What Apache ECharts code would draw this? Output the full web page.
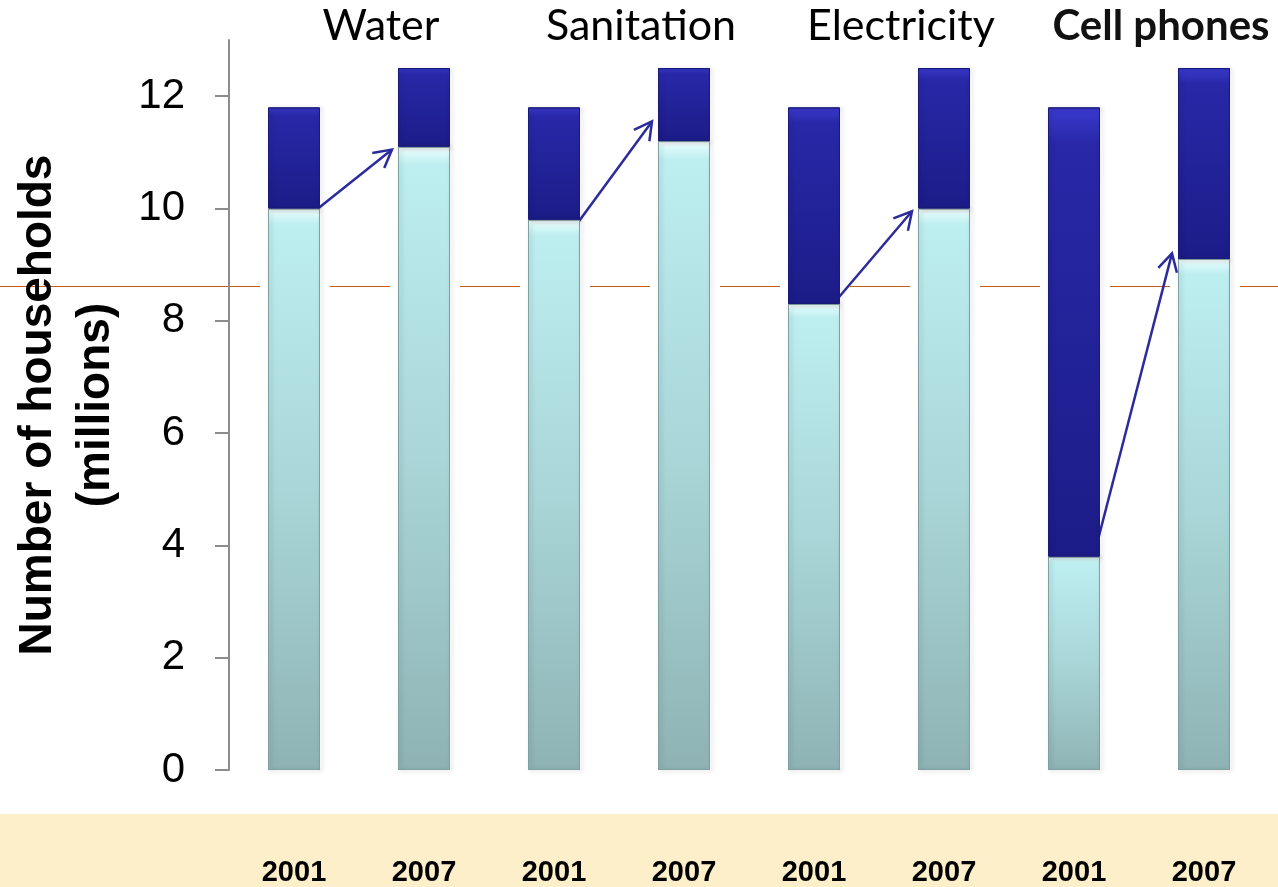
<!DOCTYPE html>
<html>
<head>
<meta charset="utf-8">
<script src="https://cdn.jsdelivr.net/npm/echarts@6.0.0/dist/echarts.min.js"></script>
<style>
  html, body { margin: 0; padding: 0; background: #fff; }
  #chart { width: 1278px; height: 887px; }
</style>
</head>
<body>
<div id="chart"></div>
<script>
// Households (millions) with and without access, 2001 vs 2007
const groups = ['Water', 'Sanitation', 'Electricity', 'Cell phones']
const years = ['2001', '2007', '2001', '2007', '2001', '2007', '2001', '2007']
const withAccess = [10.0, 11.1, 9.8, 11.2, 8.3, 10.0, 3.8, 9.1]
const withoutAccess = [1.8, 1.4, 2.0, 1.3, 3.5, 2.5, 8.0, 3.4]
const yTicks = [0, 2, 4, 6, 8, 10, 12]

// arrows: value at start (2001 bar) and at end (next to the 2007 bar)
const arrowFrom = [10.0, 9.75, 8.4, 4.1]
const arrowTo = [11.05, 11.55, 9.95, 9.2]
const refLineValue = 8.62

const chart = echarts.init(document.getElementById('chart'))

const barW = 52

const lightFill = new echarts.graphic.LinearGradient(0, 0, 0, 1, [
  { offset: 0, color: '#ffffff' },
  { offset: 0.012, color: '#d8f8f9' },
  { offset: 0.03, color: '#bdeef0' },
  { offset: 0.5, color: '#a9d6d8' },
  { offset: 1, color: '#8fb3b4' }
])
const darkFill = new echarts.graphic.LinearGradient(0, 0, 0, 1, [
  { offset: 0, color: '#3a3ad0' },
  { offset: 0.08, color: '#2828a8' },
  { offset: 1, color: '#1c1c88' }
])

chart.setOption({
  animation: false,
  grid: { left: 229, right: 9, top: 40, bottom: 116, containLabel: false },
  xAxis: [
    {
      type: 'category',
      data: years,
      axisLine: { show: false },
      axisTick: { show: false },
      axisLabel: {
        interval: 0,
        margin: 88,
        fontFamily: '"Liberation Sans Narrow", "Liberation Sans", sans-serif',
        fontWeight: 'bold',
        fontSize: 29,
        color: '#000'
      }
    },
    {
      type: 'category',
      position: 'top',
      data: groups,
      axisLine: { show: false },
      axisTick: { show: false },
      axisLabel: {
        interval: 0,
        hideOverlap: false,
        margin: 14,
        verticalAlign: 'middle',
        padding: [0, 0, 0, 44],
        fontFamily: 'Lato, "Open Sans", sans-serif',
        fontSize: 43,
        color: '#000',
        formatter: v => v === 'Cell phones' ? '{b|' + v + '}' : v,
        rich: {
          b: { fontFamily: 'Lato, sans-serif', fontSize: 42, fontWeight: 'bold', color: '#111' }
        }
      }
    }
  ],
  yAxis: {
    type: 'value',
    min: 0,
    max: 13,
    interval: 2,
    name: 'Number of households\n(millions)',
    nameLocation: 'middle',
    nameRotate: 90,
    nameGap: 104,
    nameTextStyle: {
      fontFamily: '"Liberation Sans", Arial, sans-serif',
      fontWeight: 'bold',
      fontSize: 46,
      lineHeight: 58,
      color: '#000'
    },
    axisLine: { show: true, lineStyle: { color: '#8c8c8c', width: 2 } },
    axisTick: { show: true, length: 14, customValues: yTicks, lineStyle: { color: '#8c8c8c', width: 2 } },
    axisLabel: {
      margin: 44,
      customValues: yTicks,
      fontFamily: '"Liberation Sans", Arial, sans-serif',
      fontSize: 42,
      color: '#000'
    },
    splitLine: { show: false }
  },
  series: [
    {
      name: 'With access',
      type: 'bar',
      stack: 'total',
      barWidth: barW,
      data: withAccess,
      itemStyle: {
        color: lightFill,
        borderColor: '#7f9fa0',
        borderWidth: 1,
        shadowColor: 'rgba(0,0,0,0.25)',
        shadowBlur: 4,
        shadowOffsetX: 2,
        shadowOffsetY: 1
      }
    },
    {
      name: 'Without access',
      type: 'bar',
      stack: 'total',
      barWidth: barW,
      data: withoutAccess,
      itemStyle: {
        color: darkFill,
        borderColor: '#1a1a7c',
        borderWidth: 1,
        shadowColor: 'rgba(0,0,0,0.25)',
        shadowBlur: 4,
        shadowOffsetX: 2,
        shadowOffsetY: 1
      }
    }
  ]
})

// Overlays: bottom band, orange reference line (broken at bars), arrows
const toPx = (i, v) => chart.convertToPixel({ xAxisIndex: 0, yAxisIndex: 0 }, [i, v])
const graphics = []

graphics.push({
  type: 'rect',
  z: -100,
  shape: { x: 0, y: 814, width: 1278, height: 73 },
  style: { fill: '#fdefc9' },
  silent: true
})

const refY = Math.round(toPx(0, refLineValue)[1]) + 0.5
let segStart = 0
years.forEach((y, i) => {
  const cx = toPx(i, 0)[0]
  graphics.push({
    type: 'line',
    z: -50,
    shape: { x1: segStart, y1: refY, x2: cx - barW / 2 - 8, y2: refY },
    style: { stroke: '#c55a11', lineWidth: 1 }
  })
  segStart = cx + barW / 2 + 10
})
graphics.push({
  type: 'line',
  z: -50,
  shape: { x1: segStart, y1: refY, x2: 1278, y2: refY },
  style: { stroke: '#c55a11', lineWidth: 1 }
})

groups.forEach((g, k) => {
  const p0 = toPx(k * 2, arrowFrom[k])
  const p1 = toPx(k * 2 + 1, arrowTo[k])
  const x0 = p0[0] + 24, y0 = p0[1]
  const x1 = p1[0] - 32, y1 = p1[1]
  const ang = Math.atan2(y1 - y0, x1 - x0)
  const head = 20, spread = 0.5
  graphics.push({
    type: 'group',
    z: 100,
    children: [
      {
        type: 'line',
        shape: { x1: x0, y1: y0, x2: x1, y2: y1 },
        style: { stroke: '#2b2b9c', lineWidth: 2.5 }
      },
      {
        type: 'polyline',
        shape: {
          points: [
            [x1 - head * Math.cos(ang - spread), y1 - head * Math.sin(ang - spread)],
            [x1, y1],
            [x1 - head * Math.cos(ang + spread), y1 - head * Math.sin(ang + spread)]
          ]
        },
        style: { stroke: '#2b2b9c', lineWidth: 2.5, fill: null }
      }
    ]
  })
})

chart.setOption({ graphic: graphics })
</script>
</body>
</html>
